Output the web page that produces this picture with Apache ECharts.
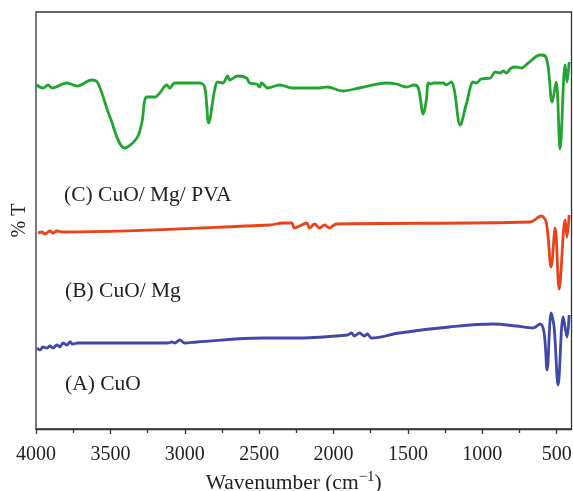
<!DOCTYPE html>
<html>
<head>
<meta charset="utf-8">
<script src="https://cdn.jsdelivr.net/npm/echarts@6/dist/echarts.min.js"></script>
<style>
  html, body { margin: 0; padding: 0; background: #fff; }
  #chart { width: 573px; height: 491px; }
</style>
</head>
<body>
<div id="chart"></div>
<script>
// FTIR spectra, offset vertically (arbitrary % T units)
const wnC = [3995, 3953, 3919, 3893, 3792, 3725, 3624, 3584, 3503, 3403, 3322, 3289, 3255, 3201, 3168, 3121, 3101, 3067,
  2899, 2866, 2839, 2799, 2779, 2745, 2711, 2698, 2644, 2584, 2564, 2517, 2497, 2483, 2443, 2362, 2275, 2228, 2094, 2040,
  1940, 1826, 1644, 1577, 1510, 1456, 1430, 1396, 1376, 1362, 1342, 1329, 1295, 1262, 1242, 1208, 1188, 1148, 1107, 1060,
  1040, 1007, 946, 913, 879, 859, 839, 805, 772, 738, 691, 611, 577, 557, 530, 503, 477, 443, 430, 416];
const tC = [344, 341, 344, 341, 346, 343, 349, 346, 312, 281, 291, 306, 332, 332, 336, 344, 341, 346,
  346, 342, 306, 339, 347, 346, 353, 349, 353, 351, 346, 345, 342, 346, 341, 344, 341, 341, 341, 342,
  338, 341, 346, 345, 342, 344, 341, 315, 329, 346, 345, 346, 346, 346, 344, 347, 339, 304, 325, 347,
  346, 350, 351, 357, 356, 358, 356, 361, 362, 361, 366, 374, 373, 362, 327, 347, 280, 364, 347, 367];

const wnB = [3987, 3960, 3940, 3906, 3886, 3859, 3819, 2430, 2342, 2282, 2262, 2228, 2181, 2161, 2128, 2094, 2060,
  2027, 2007, 1980, 678, 604, 570, 537, 510, 483, 443, 430, 416];
const tB = [196, 197, 195, 198, 196, 198, 197, 204, 206, 206, 201, 203, 206, 201, 205, 201, 204,
  201, 203, 205, 207, 213, 207, 162, 201, 140, 209, 192, 214];

const wnA = [3993, 3973, 3953, 3926, 3906, 3886, 3859, 3839, 3819, 3792, 3772, 3752, 3718, 3114, 3087, 3067, 3034,
  3000, 2919, 2477, 2228, 1906, 1879, 1859, 1826, 1792, 1772, 1745, 1557, 1221, 926, 772, 658, 611, 584, 564, 537,
  517, 490, 456, 430, 416];
const tA = [81, 79, 82, 81, 83, 81, 84, 82, 86, 84, 87, 85, 86, 86, 87, 86, 89,
  86, 87, 91, 91, 94, 96, 93, 96, 93, 95, 91, 96, 102, 105, 103, 101, 105, 96, 59, 116,
  102, 44, 112, 92, 114];

const majorTicks = [4000, 3500, 3000, 2500, 2000, 1500, 1000, 500];
const minorTicks = [3750, 3250, 2750, 2250, 1750, 1250, 750];

const sampleLabels = [
  { text: '(C) CuO/ Mg/ PVA', x: 64, y: 196 },
  { text: '(B) CuO/ Mg', x: 65, y: 292 },
  { text: '(A) CuO', x: 65, y: 385 }
];

const zip = (xs, ys) => xs.map((x, i) => [x, ys[i]]);
const serif = '"Liberation Serif", "DejaVu Serif", serif';

const chart = echarts.init(document.getElementById('chart'), null, { renderer: 'canvas' });

const baseX = {
  type: 'value', inverse: true, min: 400, max: 4000,
  position: 'bottom', splitLine: { show: false }
};

chart.setOption({
  animation: false,
  backgroundColor: '#fff',
  grid: {
    left: 36, right: 1.5, top: 12, bottom: 62,
    outerBoundsMode: 'none', containLabel: false,
    show: true, borderColor: '#333', borderWidth: 1.3, backgroundColor: 'transparent'
  },
  xAxis: [
    Object.assign({}, baseX, {
      axisLine: { show: true, lineStyle: { color: '#333', width: 1.3 } },
      axisTick: { show: true, inside: false, length: 5, customValues: majorTicks, lineStyle: { color: '#333', width: 1.3 } },
      axisLabel: {
        customValues: majorTicks, color: '#222', fontFamily: serif, fontSize: 20, margin: 16,
        formatter: v => String(v)
      },
      name: '{t|Wavenumber (cm}{s|−1}{t|)}',
      nameLocation: 'middle',
      nameGap: 40,
      nameTextStyle: {
        padding: [0, 20, 0, 0],
        rich: {
          t: { fontFamily: serif, fontSize: 21.5, color: '#222' },
          s: { fontFamily: serif, fontSize: 15, color: '#222', verticalAlign: 'top', padding: [0, 0, 11, 0] }
        }
      }
    }),
    Object.assign({}, baseX, {
      axisLine: { show: false },
      axisTick: { show: true, inside: false, length: 4, customValues: minorTicks, lineStyle: { color: '#333', width: 1.3 } },
      axisLabel: { show: false }
    })
  ],
  yAxis: {
    type: 'value', min: 0, max: 417,
    axisLine: { show: false }, axisTick: { show: false }, axisLabel: { show: false },
    splitLine: { show: false },
    name: '% T', nameLocation: 'middle', nameGap: 6, nameRotate: 90,
    nameTextStyle: { fontFamily: serif, fontSize: 20, color: '#222' }
  },
  series: [
    { name: 'C', type: 'line', data: zip(wnC, tC), smooth: 0.35, showSymbol: false,
      lineStyle: { color: '#22a530', width: 2.8 } },
    { name: 'B', type: 'line', data: zip(wnB, tB), smooth: 0.35, showSymbol: false,
      lineStyle: { color: '#e8431a', width: 2.8 } },
    { name: 'A', type: 'line', data: zip(wnA, tA), smooth: 0.35, showSymbol: false,
      lineStyle: { color: '#4048a8', width: 2.8 } }
  ],
  graphic: sampleLabels.map(l => ({
    type: 'text', left: l.x, top: l.y - 12,
    style: { text: l.text, fontFamily: serif, fontSize: 21.5, fill: '#222' }
  }))
});
</script>
</body>
</html>
